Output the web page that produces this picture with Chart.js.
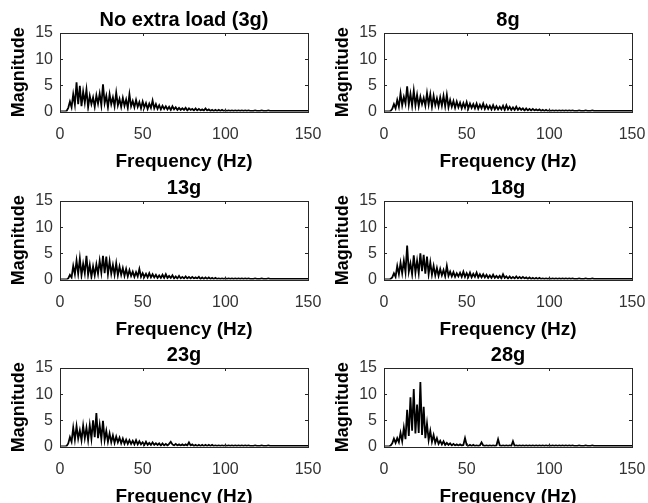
<!DOCTYPE html>
<html>
<head>
<meta charset="utf-8">
<script src="https://cdn.jsdelivr.net/npm/chart.js@4.4.0/dist/chart.umd.min.js"></script>
<style>
    html, body { margin: 0; padding: 0; background: #fff; width: 648px; height: 503px; overflow: hidden; }
    .cell { position: absolute; width: 324px; height: 176px; }
</style>
</head>
<body>
<div class="cell" style="left:0px;top:0px"><canvas id="c3g" width="324" height="176"></canvas></div>
<div class="cell" style="left:324px;top:0px"><canvas id="c8g" width="324" height="176"></canvas></div>
<div class="cell" style="left:0px;top:168px"><canvas id="c13g" width="324" height="176"></canvas></div>
<div class="cell" style="left:324px;top:168px"><canvas id="c18g" width="324" height="176"></canvas></div>
<div class="cell" style="left:0px;top:335px"><canvas id="c23g" width="324" height="176"></canvas></div>
<div class="cell" style="left:324px;top:335px"><canvas id="c28g" width="324" height="176"></canvas></div>
<script>
// panel titles
var titles = ['No extra load (3g)', '8g', '13g', '18g', '23g', '28g'];

// axis ticks
var freqTicks = [0, 50, 100, 150];
var magTicks = [0, 5, 10, 15];
var binHz = 1; // one value per Hz

// magnitude, 0..99 Hz
var mag3g = [
    0, 0, 0, 0, 0.1, 0.7, 1.9, 0.8, 3.3, 1.3,
    5.6, 1.4, 4.9, 1.0, 3.8, 1.7, 4.2, 0.8, 3.0, 1.4,
    2.7, 0.9, 3.1, 1.5, 3.4, 1.2, 5.2, 1.6, 3.0, 0.8,
    3.3, 1.4, 2.7, 1.0, 3.6, 1.2, 2.4, 0.9, 2.6, 1.1,
    2.3, 0.7, 3.3, 1.0, 2.0, 0.8, 2.2, 0.9, 1.8, 0.6,
    1.9, 0.8, 1.6, 0.5, 1.5, 0.7, 2.1, 0.6, 1.4, 0.5,
    1.2, 0.4, 1.1, 0.5, 1.0, 0.4, 0.9, 0.3, 1.0, 0.4,
    0.8, 0.3, 0.7, 0.3, 0.6, 0.3, 0.7, 0.2, 0.6, 0.3,
    0.5, 0.2, 0.6, 0.2, 0.5, 0.2, 0.4, 0.2, 0.6, 0.2,
    0.4, 0.1, 0.3, 0.1, 0.3, 0.1, 0.3, 0.1, 0.3, 0.1
];
var mag8g = [
    0, 0, 0, 0, 0.1, 0.5, 1.4, 0.6, 2.2, 0.9,
    3.5, 1.2, 2.8, 1.5, 4.8, 1.3, 3.4, 1.1, 4.0, 1.2,
    3.2, 1.0, 2.8, 1.4, 2.6, 1.1, 3.5, 1.3, 3.3, 0.9,
    3.0, 1.2, 2.5, 1.0, 2.7, 1.1, 3.0, 1.0, 3.2, 0.8,
    2.2, 0.9, 2.0, 0.7, 1.9, 0.8, 1.7, 0.6, 1.6, 0.7,
    1.8, 0.6, 1.5, 0.7, 1.4, 0.6, 1.5, 0.5, 1.3, 0.6,
    1.5, 0.5, 1.2, 0.5, 1.1, 0.4, 1.2, 0.4, 1.0, 0.4,
    0.9, 0.4, 1.1, 0.3, 1.2, 0.4, 0.9, 0.3, 0.8, 0.3,
    0.9, 0.3, 0.7, 0.3, 0.6, 0.2, 0.6, 0.2, 0.5, 0.2,
    0.5, 0.2, 0.4, 0.2, 0.4, 0.1, 0.3, 0.1, 0.3, 0.1
];
var mag13g = [
    0, 0, 0, 0, 0, 0.2, 0.9, 0.4, 2.6, 1.0,
    3.6, 1.1, 4.0, 0.8, 3.0, 1.2, 4.5, 0.9, 2.8, 0.5,
    2.5, 0.8, 2.9, 1.1, 3.6, 1.3, 4.5, 1.2, 4.4, 1.0,
    3.5, 1.1, 2.8, 0.9, 3.1, 0.8, 2.5, 0.9, 2.2, 0.7,
    2.0, 0.6, 1.8, 0.7, 1.5, 0.5, 1.4, 0.6, 2.0, 0.5,
    1.2, 0.5, 1.1, 0.4, 1.2, 0.4, 1.0, 0.4, 0.9, 0.3,
    0.8, 0.3, 0.9, 0.3, 1.0, 0.3, 0.7, 0.3, 0.8, 0.2,
    0.6, 0.2, 0.7, 0.2, 0.5, 0.2, 0.6, 0.2, 0.5, 0.2,
    0.5, 0.2, 0.4, 0.2, 0.5, 0.1, 0.4, 0.1, 0.4, 0.1,
    0.4, 0.1, 0.3, 0.1, 0.3, 0.1, 0.2, 0.1, 0.2, 0.1
];
var mag18g = [
    0, 0, 0, 0, 0.1, 0.4, 1.2, 0.5, 2.6, 1.0,
    3.2, 1.2, 3.6, 1.4, 6.5, 1.5, 3.1, 1.0, 4.6, 1.3,
    3.6, 1.2, 5.0, 1.6, 4.7, 1.1, 4.4, 1.0, 3.3, 0.9,
    2.6, 0.8, 2.2, 0.7, 2.0, 0.8, 1.8, 0.6, 2.6, 0.7,
    1.5, 0.6, 1.4, 0.5, 1.2, 0.6, 1.3, 0.5, 1.5, 0.5,
    1.2, 0.5, 1.3, 0.4, 1.1, 0.5, 1.3, 0.4, 1.0, 0.4,
    1.0, 0.4, 0.9, 0.3, 0.8, 0.3, 0.9, 0.3, 0.7, 0.3,
    0.7, 0.2, 1.0, 0.3, 0.6, 0.2, 0.6, 0.2, 0.5, 0.2,
    0.6, 0.2, 0.5, 0.2, 0.5, 0.2, 0.4, 0.1, 0.4, 0.1,
    0.3, 0.1, 0.3, 0.1, 0.3, 0.1, 0.2, 0.1, 0.2, 0.1
];
var mag23g = [
    0, 0, 0, 0, 0.1, 0.6, 1.8, 0.9, 3.6, 1.3,
    3.9, 1.5, 3.1, 1.2, 4.0, 1.6, 3.6, 1.2, 4.1, 1.5,
    5.0, 1.8, 6.4, 1.6, 4.1, 1.4, 4.9, 1.2, 3.0, 0.9,
    2.5, 0.8, 2.1, 0.7, 1.9, 0.8, 1.7, 0.6, 1.5, 0.5,
    1.3, 0.5, 1.2, 0.5, 1.1, 0.4, 1.2, 0.4, 1.0, 0.4,
    0.8, 0.3, 0.9, 0.3, 0.7, 0.3, 0.8, 0.3, 0.6, 0.3,
    0.6, 0.2, 0.6, 0.2, 0.5, 0.2, 0.5, 0.9, 0.4, 0.2,
    0.5, 0.2, 0.4, 0.2, 0.4, 0.2, 0.4, 0.2, 0.8, 0.2,
    0.4, 0.1, 0.3, 0.1, 0.3, 0.1, 0.3, 0.1, 0.3, 0.1,
    0.3, 0.1, 0.3, 0.1, 0.2, 0.1, 0.2, 0.1, 0.2, 0.1
];
var mag28g = [
    0, 0, 0, 0, 0.2, 0.6, 1.5, 0.7, 1.6, 0.8,
    2.6, 1.0, 3.6, 1.4, 7.0, 2.0, 9.4, 3.0, 11.0, 2.5,
    8.0, 2.6, 12.3, 2.2, 7.6, 1.6, 4.4, 1.2, 3.0, 0.9,
    2.2, 0.7, 1.6, 0.5, 1.1, 0.4, 1.0, 0.3, 0.7, 0.3,
    0.6, 0.2, 0.5, 0.2, 0.4, 0.2, 0.4, 0.2, 0.3, 1.6,
    0.3, 0.1, 0.3, 0.1, 0.3, 0.1, 0.2, 0.1, 0.2, 0.8,
    0.2, 0.1, 0.2, 0.1, 0.2, 0.1, 0.2, 0.1, 0.2, 1.4,
    0.2, 0.1, 0.2, 0.1, 0.2, 0.1, 0.2, 0.1, 1.0, 0.1,
    0.2, 0.1, 0.2, 0.1, 0.2, 0.1, 0.2, 0.1, 0.2, 0.1,
    0.2, 0.1, 0.2, 0.1, 0.2, 0.1, 0.2, 0.1, 0.2, 0.1
];
// 100..150 Hz, nearly flat in every panel
var quietTail = [
    0.2, 0.1, 0.2, 0.1, 0.2, 0.1, 0.2, 0.1, 0.2, 0.1,
    0.2, 0.1, 0.2, 0.1, 0.2, 0.1, 0.1, 0.1, 0.2, 0.1,
    0.1, 0.1, 0.2, 0.1, 0.1, 0.1, 0.2, 0.1, 0.1, 0.1,
    0.1, 0.1, 0.1, 0.1, 0.1, 0.1, 0.1, 0.1, 0.1, 0.1,
    0.1, 0.1, 0.1, 0.1, 0.1, 0.1, 0.1, 0.1, 0.1, 0.1, 0.1
];

var FONT = '"Liberation Sans", Arial, Helvetica, sans-serif';

// MATLAB style box with inward tick marks
var boxPlugin = {
    id: 'matlabBox',
    afterDraw: function(chart) {
        var ctx = chart.ctx;
        var a = chart.chartArea;
        var xs = chart.scales.x, ys = chart.scales.y;
        var tl = 3;
        ctx.save();
        ctx.strokeStyle = '#262626';
        ctx.lineWidth = 1;
        ctx.strokeRect(Math.round(a.left) + 0.5, Math.round(a.top) + 0.5,
            Math.round(a.right - a.left), Math.round(a.bottom - a.top));
        ctx.beginPath();
        freqTicks.forEach(function(v) {
            var px = Math.round(xs.getPixelForValue(v)) + 0.5;
            ctx.moveTo(px, a.bottom); ctx.lineTo(px, a.bottom - tl);
            ctx.moveTo(px, a.top); ctx.lineTo(px, a.top + tl);
        });
        magTicks.forEach(function(v) {
            var py = Math.round(ys.getPixelForValue(v)) + 0.5;
            ctx.moveTo(a.left, py); ctx.lineTo(a.left + tl, py);
            ctx.moveTo(a.right, py); ctx.lineTo(a.right - tl, py);
        });
        ctx.stroke();
        ctx.restore();
    }
};

function makeChart(canvasId, title, values) {
    var ctx = document.getElementById(canvasId).getContext('2d');
    var all = values.concat(quietTail);
    var points = all.map(function(v, i) { return { x: i * binHz, y: v }; });

    return new Chart(ctx, {
        type: 'line',
        data: {
            datasets: [{
                data: points,
                borderColor: '#000',
                borderWidth: 1.8,
                pointRadius: 0,
                tension: 0,
                fill: false
            }]
        },
        options: {
            responsive: false,
            animation: false,
            layout: { padding: { left: 0, right: 16, top: 0, bottom: 0 } },
            plugins: {
                legend: { display: false },
                tooltip: { enabled: false },
                title: {
                    display: true,
                    fullSize: false, // center over the plot box
                    text: title,
                    color: '#000',
                    font: { family: FONT, size: 20, weight: 'bold' },
                    padding: { top: 8, bottom: 1 }
                }
            },
            scales: {
                x: {
                    type: 'linear',
                    min: 0,
                    max: 150,
                    grid: { display: false, drawTicks: false },
                    border: { display: false },
                    afterBuildTicks: function(scale) {
                        scale.ticks = freqTicks.map(function(v) { return { value: v }; });
                    },
                    afterFit: function(scale) {
                        scale.height = 64.5;
                        // let the "150" label hang past the box, like MATLAB
                        scale.paddingLeft = 0;
                        scale.paddingRight = 0;
                    },
                    ticks: {
                        color: '#333',
                        font: { family: FONT, size: 16 },
                        padding: 13,
                        maxRotation: 0
                    },
                    title: {
                        display: true,
                        text: 'Frequency (Hz)',
                        color: '#000',
                        font: { family: FONT, size: 19, weight: 'bold' },
                        padding: { top: 0, bottom: 3 }
                    }
                },
                y: {
                    type: 'linear',
                    min: 0,
                    max: 15,
                    grid: { display: false, drawTicks: false },
                    border: { display: false },
                    afterBuildTicks: function(scale) {
                        scale.ticks = magTicks.map(function(v) { return { value: v }; });
                    },
                    afterFit: function(scale) {
                        scale.width = 60;
                        scale.paddingTop = 0;
                        scale.paddingBottom = 0;
                    },
                    ticks: {
                        color: '#333',
                        font: { family: FONT, size: 16 },
                        padding: 7
                    },
                    title: {
                        display: true,
                        text: 'Magnitude',
                        color: '#000',
                        font: { family: FONT, size: 18, weight: 'bold' },
                        padding: { top: 8, bottom: 0 }
                    }
                }
            }
        },
        plugins: [boxPlugin]
    });
}

makeChart('c3g', titles[0], mag3g);
makeChart('c8g', titles[1], mag8g);
makeChart('c13g', titles[2], mag13g);
makeChart('c18g', titles[3], mag18g);
makeChart('c23g', titles[4], mag23g);
makeChart('c28g', titles[5], mag28g);
</script>
</body>
</html>
